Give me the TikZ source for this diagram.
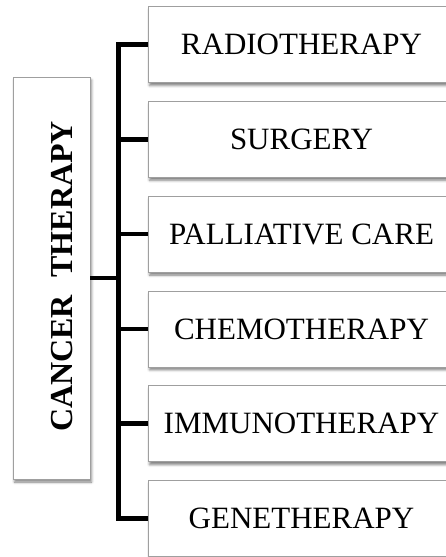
\documentclass[tikz,border=0pt]{standalone}
\usepackage{fontspec}
\setmainfont{Liberation Serif}
\usetikzlibrary{shadows.blur}
\begin{document}
\begin{tikzpicture}[x=1pt,y=-1pt,
  boxshadow/.style={blur shadow={shadow xshift=1.5pt,shadow yshift=-3pt,
      shadow blur radius=2.5pt,shadow opacity=50}},
  topic/.style={draw=gray!75,line width=0.8pt,fill=white,boxshadow,
      minimum width=307pt,minimum height=76pt,inner sep=0pt,
      font=\fontsize{31}{37}\selectfont},
  rootbox/.style={draw=gray!75,line width=0.8pt,fill=white,boxshadow,
      minimum width=77pt,minimum height=402pt,inner sep=0pt},
  roottext/.style={rotate=90,inner sep=0pt,
      font=\fontsize{32}{38}\selectfont\bfseries},
  conn/.style={line width=4.5pt,black}]
\useasboundingbox (0,0) rectangle (446,557);
\clip (0,0) rectangle (446,557);

% root of the tree
\node[rootbox] (root) at (51.5,278) {};
\node[roottext] (rootlabel) at (62.5,276.5) {CANCER\hspace{0.55em}THERAPY};

% the six kinds of therapy
\node[topic] (b1) at (301.5,44.5)  {RADIOTHERAPY};
\node[topic] (b2) at (301.5,139.3) {SURGERY};
\node[topic] (b3) at (301.5,234.1) {PALLIATIVE CARE};
\node[topic] (b4) at (301.5,328.9) {CHEMOTHERAPY};
\node[topic] (b5) at (301.5,423.7) {IMMUNOTHERAPY};
\node[topic] (b6) at (301.5,518.5) {GENETHERAPY};

% bracket joining the root to every branch
\coordinate (trunk) at (118.5,278);
\draw[conn] (root.east) -- (trunk);
\draw[conn] (b1.west) -| (b6.west -| trunk) -- (b6.west);
\foreach \b in {b2,b3,b4,b5}
  \draw[conn] (\b.west -| trunk) -- (\b.west);
\end{tikzpicture}
\end{document}
